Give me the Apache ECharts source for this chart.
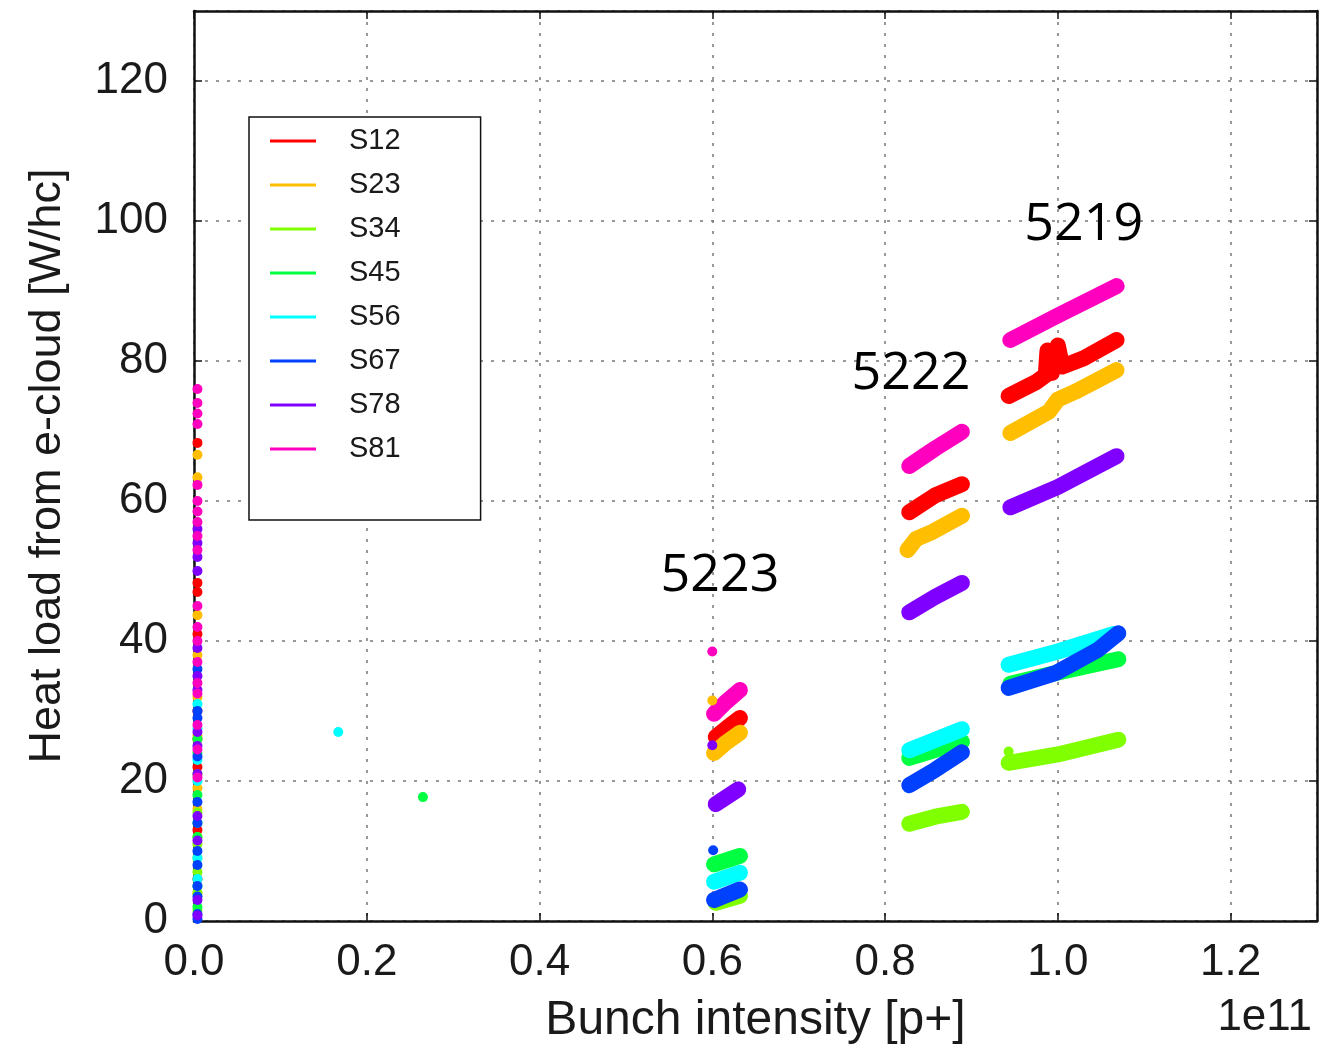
<!DOCTYPE html>
<html lang="en">
<head>
    <meta charset="UTF-8"/>
    <title>Heat load from e-cloud vs bunch intensity</title>
    <script src="https://cdn.jsdelivr.net/npm/echarts@6/dist/echarts.min.js"></script>
    <style>
        html, body { margin: 0; padding: 0; background: #fff; }
        #chart { width: 1321px; height: 1051px; }
    </style>
</head>
<body>
<div id="chart"></div>
<script type="text/javascript">
    // sectors and their colours (hsv colormap, 8 steps)
    var sectors = ['S12', 'S23', 'S34', 'S45', 'S56', 'S67', 'S78', 'S81'];
    var colors = ['#ff0000', '#ffbf00', '#80ff00', '#00ff40', '#00ffff', '#0040ff', '#8000ff', '#ff00bf'];

    // fill 5223, one band per sector (same order as sectors)
    var fill5223 = [
        [[0.604, 26.3], [0.618, 27.7], [0.632, 29.0]],
        [[0.602, 24.0], [0.615, 25.4], [0.632, 26.9]],
        [[0.604, 2.6], [0.632, 3.6]],
        [[0.602, 8.1], [0.632, 9.3]],
        [[0.602, 5.6], [0.632, 6.9]],
        [[0.602, 3.0], [0.632, 4.5]],
        [[0.604, 16.7], [0.630, 18.8]],
        [[0.602, 29.6], [0.615, 31.2], [0.632, 33.0]]
    ];
    // fill 5222
    var fill5222 = [
        [[0.828, 58.4], [0.858, 60.8], [0.889, 62.4]],
        [[0.826, 53.0], [0.836, 54.6], [0.855, 55.6], [0.889, 57.9]],
        [[0.828, 13.9], [0.858, 14.9], [0.889, 15.6]],
        [[0.828, 23.3], [0.889, 25.6]],
        [[0.828, 24.4], [0.889, 27.4]],
        [[0.828, 19.4], [0.858, 21.6], [0.889, 24.1]],
        [[0.828, 44.1], [0.858, 46.3], [0.889, 48.3]],
        [[0.828, 65.0], [0.858, 67.5], [0.889, 69.9]]
    ];
    // fill 5219
    var fill5219 = [
        [[0.943, 75.0], [0.975, 77.0], [0.986, 78.0], [0.988, 81.5], [0.993, 78.3], [1.0, 82.2], [1.005, 79.2], [1.03, 80.4], [1.068, 83.0]],
        [[0.945, 69.7], [0.99, 72.8], [1.0, 74.5], [1.02, 75.6], [1.068, 78.7]],
        [[0.943, 22.6], [1.0, 23.8], [1.070, 25.9]],
        [[0.945, 33.9], [1.0, 35.5], [1.070, 37.4]],
        [[0.943, 36.6], [1.0, 38.5], [1.065, 41.0]],
        [[0.943, 33.3], [0.997, 35.4], [1.046, 38.7], [1.070, 41.1]],
        [[0.945, 59.1], [1.0, 62.0], [1.068, 66.4]],
        [[0.945, 83.0], [1.0, 86.5], [1.068, 90.7]]
    ];
    // isolated points
    var strayDots = [
        [],
        [[0.600, 31.5]],
        [[0.943, 24.2]],
        [[0.265, 17.7]],
        [[0.167, 27.0]],
        [[0.601, 10.1]],
        [[0.600, 25.1]],
        [[0.600, 38.5]]
    ];
    // points sitting at zero intensity (heat load values)
    var axisDots = [
        [68.3, 48.3, 47.0, 41.0, 30.0, 26.0, 22.0, 13.0, 6.0],
        [66.6, 63.4, 43.7, 38.0, 32.0, 26.5, 19.0, 16.0, 12.0, 4.0],
        [21.0, 15.5, 11.0, 9.0, 7.0, 4.0, 1.5],
        [26.0, 24.0, 18.0, 14.0, 12.0, 5.0, 2.0],
        [31.0, 27.5, 23.0, 20.0, 9.0, 6.0],
        [36.0, 30.0, 29.0, 23.5, 17.0, 14.0, 10.0, 8.0, 5.0, 3.5, 1.0, 0.3],
        [56.0, 54.0, 52.0, 50.0, 39.0, 35.0, 33.0, 27.0, 25.0, 21.0, 15.0, 11.5, 3.0, 0.8],
        [76.0, 74.0, 72.5, 71.0, 62.3, 60.0, 58.5, 57.0, 55.0, 53.0, 45.0, 42.0, 40.0, 37.0, 34.0, 32.5, 28.0, 24.5, 20.5]
    ];
    // fill number annotations [x, y, text]
    var fillLabels = [[0.609, 49.2, '5223'], [0.830, 78.1, '5222'], [1.030, 99.4, '5219']];

    var xTicks = [0, 0.2, 0.4, 0.6, 0.8, 1.0, 1.2];
    var yTicks = [0, 20, 40, 60, 80, 100, 120];

    var fontMain = '"Liberation Sans", Arial, sans-serif';
    var textColor = '#1a1a1a';

    var series = [];
    sectors.forEach(function (name, i) {
        [fill5223, fill5222, fill5219].forEach(function (fill) {
            series.push({
                name: name,
                type: 'line',
                data: fill[i],
                color: colors[i],
                showSymbol: false,
                symbol: 'none',
                lineStyle: {width: 16, cap: 'round', join: 'round', color: colors[i]},
                emphasis: {disabled: true},
                silent: true,
                z: 2
            });
        });
        var edge = axisDots[i].map(function (v) { return [0.004, v]; });
        series.push({
            name: name,
            type: 'scatter',
            data: edge.concat(strayDots[i]),
            color: colors[i],
            symbolSize: 10,
            itemStyle: {color: colors[i], opacity: 1},
            silent: true,
            z: 2
        });
    });
    series.push({
        name: 'fills',
        type: 'scatter',
        data: fillLabels,
        symbolSize: 0,
        silent: true,
        z: 5,
        itemStyle: {opacity: 1},
        label: {
            show: true,
            position: 'inside',
            formatter: function (p) { return p.value[2]; },
            fontFamily: '"Open Sans", "Noto Sans", sans-serif',
            fontSize: 52,
            color: '#000',
            opacity: 1
        }
    });

    var dotted = {show: true, lineStyle: {color: '#777', width: 1.5, type: [3, 8]}};
    var frame = {show: true, onZero: false, lineStyle: {color: '#111', width: 2.5}};
    var ticks = {show: true, inside: true, length: 8, lineStyle: {color: '#111', width: 1.5}};

    var option = {
        animation: false,
        backgroundColor: '#fff',
        grid: {left: 194, top: 11, width: 1123, height: 910},
        xAxis: [{
            type: 'value', min: 0, max: 1.3, interval: 0.2,
            name: 'Bunch intensity [p+]', nameLocation: 'middle', nameGap: 76,
            nameTextStyle: {fontFamily: fontMain, fontSize: 48, color: textColor},
            axisLine: frame,
            axisTick: ticks,
            axisLabel: {
                fontFamily: fontMain, fontSize: 44, color: textColor, margin: 20,
                showMaxLabel: false,
                formatter: function (v) { return xTicks.indexOf(Math.round(v * 10) / 10) >= 0 ? v.toFixed(1) : ''; }
            },
            splitLine: dotted
        }, {
            type: 'value', min: 0, max: 1.3, interval: 0.2, position: 'top',
            axisLine: frame, axisLabel: {show: false}, splitLine: {show: false},
            axisTick: ticks
        }],
        yAxis: [{
            type: 'value', min: 0, max: 130, interval: 20,
            name: 'Heat load from e-cloud [W/hc]', nameLocation: 'middle', nameGap: 124,
            nameTextStyle: {fontFamily: fontMain, fontSize: 45, color: textColor},
            axisLine: frame,
            axisTick: ticks,
            axisLabel: {
                fontFamily: fontMain, fontSize: 44, color: textColor, margin: 26,
                showMaxLabel: false,
                formatter: function (v) { return yTicks.indexOf(v) >= 0 ? String(v) : ''; }
            },
            splitLine: dotted
        }, {
            type: 'value', min: 0, max: 130, interval: 20, position: 'right',
            axisLine: frame, axisLabel: {show: false}, splitLine: {show: false},
            axisTick: ticks
        }],
        legend: {
            data: sectors,
            orient: 'vertical',
            left: 249,
            top: 117,
            icon: 'rect',
            itemWidth: 46,
            itemHeight: 3,
            itemGap: 12,
            padding: [8, 80, 55, 21],
            borderColor: '#111',
            borderWidth: 1.5,
            backgroundColor: '#fff',
            selectedMode: false,
            textStyle: {fontFamily: fontMain, fontSize: 29, color: textColor, lineHeight: 32, padding: [0, 0, 0, 28]}
        },
        graphic: [{
            type: 'text',
            right: 9,
            top: 996,
            style: {text: '1e11', fontFamily: fontMain, fontSize: 44, fill: textColor}
        }],
        series: series
    };

    var chart = echarts.init(document.getElementById('chart'));
    chart.setOption(option);
</script>
</body>
</html>
